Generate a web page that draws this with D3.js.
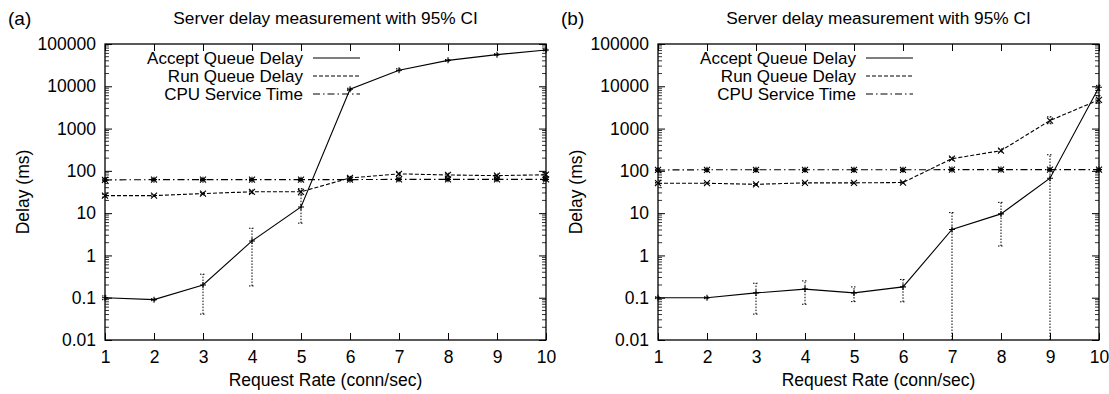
<!DOCTYPE html>
<html>
<head>
<meta charset="utf-8">
<script src="https://cdn.jsdelivr.net/npm/d3@7"></script>
<style>
  body { margin: 0; background: #fff; }
  svg { font-family: "Liberation Sans", Arial, Helvetica, sans-serif; }
</style>
</head>
<body>
<svg></svg>
<script>
// request rates (x axis)
const rates = [1, 2, 3, 4, 5, 6, 7, 8, 9, 10];
const xTickLabels = ["1", "2", "3", "4", "5", "6", "7", "8", "9", "10"];
const yTickValues = [0.01, 0.1, 1, 10, 100, 1000, 10000, 100000];
const yTickLabels = ["0.01", "0.1", "1", "10", "100", "1000", "10000", "100000"];
const seriesNames = ["Accept Queue Delay", "Run Queue Delay", "CPU Service Time"];

// panel (a)
const aAccept   = [0.1, 0.09, 0.2, 2.2, 14, 8500, 24000, 41000, 56000, 72000];
const aAcceptLo = [0.09, 0.085, 0.041, 0.19, 5.8, 8000, 23000, 39000, 54000, 69000];
const aAcceptHi = [0.11, 0.095, 0.36, 4.4, 35, 9000, 26000, 43000, 59000, 76000];
const aRun      = [26, 26, 29, 32, 32, 68, 85, 80, 77, 81];
const aRunLo    = [24, 25, 27, 29, 27, 62, 78, 72, 70, 74];
const aRunHi    = [28, 27, 31, 35, 38, 74, 92, 88, 84, 90];
const aCpu      = [61, 62, 62, 62, 62, 62, 63, 63, 63, 63];
const aCpuLo    = [58, 59, 59, 59, 59, 59, 60, 60, 60, 60];
const aCpuHi    = [64, 65, 65, 65, 65, 65, 66, 66, 66, 66];

// panel (b)
const bAccept   = [0.1, 0.1, 0.13, 0.16, 0.13, 0.18, 4.1, 9.6, 67, 9500];
const bAcceptLo = [0.095, 0.095, 0.041, 0.07, 0.081, 0.08, 0.001, 1.67, 0.001, 8000];
const bAcceptHi = [0.105, 0.105, 0.22, 0.25, 0.18, 0.27, 10.3, 18, 240, 10500];
const bRun      = [51, 51, 48, 52, 52, 53, 194, 300, 1550, 4800];
const bRunLo    = [49, 49, 45, 50, 50, 51, 180, 280, 1300, 4000];
const bRunHi    = [53, 53, 50, 54, 54, 55, 210, 330, 1900, 6000];
const bCpu      = [105, 106, 106, 106, 106, 106, 107, 107, 107, 107];
const bCpuLo    = [101, 102, 102, 102, 102, 102, 103, 103, 103, 103];
const bCpuHi    = [109, 110, 110, 110, 110, 110, 111, 111, 111, 111];

const W = 1109, H = 394;
const FS = 17.5;
const svg = d3.select("svg").attr("width", W).attr("height", H);

const styles = [
  { dash: null, marker: "plus" },
  { dash: "4,2", marker: "cross" },
  { dash: "7,3,1.5,3", marker: "star" }
];

const panels = [
  {
    label: "(a)", left: 105,
    series: [
      [aAccept, aAcceptLo, aAcceptHi],
      [aRun, aRunLo, aRunHi],
      [aCpu, aCpuLo, aCpuHi]
    ]
  },
  {
    label: "(b)", left: 658,
    series: [
      [bAccept, bAcceptLo, bAcceptHi],
      [bRun, bRunLo, bRunHi],
      [bCpu, bCpuLo, bCpuHi]
    ]
  }
];

function markerPath(type, cx, cy) {
  const s = 3;
  const p = d3.path();
  if (type === "plus" || type === "star") {
    p.moveTo(cx - s, cy); p.lineTo(cx + s, cy);
    p.moveTo(cx, cy - s); p.lineTo(cx, cy + s);
  }
  if (type === "cross" || type === "star") {
    p.moveTo(cx - s, cy - s); p.lineTo(cx + s, cy + s);
    p.moveTo(cx - s, cy + s); p.lineTo(cx + s, cy - s);
  }
  return p.toString();
}

panels.forEach(function (panel) {
  const x0 = panel.left, x1 = panel.left + 441;
  const top = 44, bottom = 340;

  const x = d3.scaleLinear().domain([1, 10]).range([x0, x1]);
  const y = d3.scaleLog().domain([0.01, 100000]).range([bottom, top]).clamp(true);

  const g = svg.append("g");

  // minor log ticks
  const minor = [];
  for (let e = -2; e < 5; e++) {
    for (let m = 2; m <= 9; m++) minor.push(m * Math.pow(10, e));
  }
  g.selectAll(".minor")
    .data(minor)
    .enter()
    .append("path")
    .attr("d", d => `M${x0},${y(d)}h4M${x1},${y(d)}h-4`)
    .attr("stroke", "#000")
    .attr("stroke-width", 0.8);

  // y axis (left labels, inward ticks)
  const yAxis = d3.axisLeft(y)
    .tickValues(yTickValues)
    .tickFormat((d, i) => yTickLabels[i])
    .tickSizeInner(-7)
    .tickSizeOuter(0)
    .tickPadding(9);
  g.append("g").attr("transform", `translate(${x0},0)`).call(yAxis)
    .call(s => s.select(".domain").remove())
    .call(s => s.selectAll("text").attr("font-size", FS).attr("font-family", null).attr("fill", "#000"));

  // right side y ticks
  g.append("g").attr("transform", `translate(${x1},0)`)
    .call(d3.axisRight(y).tickValues(yTickValues).tickFormat("").tickSizeInner(-7).tickSizeOuter(0))
    .call(s => s.select(".domain").remove());

  // x axis
  const xAxis = d3.axisBottom(x)
    .tickValues(rates)
    .tickFormat((d, i) => xTickLabels[i])
    .tickSizeInner(-7)
    .tickSizeOuter(0)
    .tickPadding(11);
  g.append("g").attr("transform", `translate(0,${bottom})`).call(xAxis)
    .call(s => s.select(".domain").remove())
    .call(s => s.selectAll("text").attr("font-size", FS).attr("font-family", null).attr("fill", "#000"));

  g.append("g").attr("transform", `translate(0,${top})`)
    .call(d3.axisTop(x).tickValues(rates).tickFormat("").tickSizeInner(-7).tickSizeOuter(0))
    .call(s => s.select(".domain").remove());

  // frame
  g.append("rect")
    .attr("x", x0).attr("y", top)
    .attr("width", x1 - x0).attr("height", bottom - top)
    .attr("fill", "none").attr("stroke", "#000").attr("stroke-width", 1.3);

  // labels
  g.append("text").attr("x", x0 - 97).attr("y", 25)
    .attr("font-size", 19).text(panel.label);
  g.append("text").attr("x", (x0 + x1) / 2).attr("y", 24)
    .attr("text-anchor", "middle").attr("font-size", 17.3)
    .text("Server delay measurement with 95% CI");
  g.append("text")
    .attr("transform", `translate(${x0 - 76},${(top + bottom) / 2}) rotate(-90)`)
    .attr("text-anchor", "middle").attr("font-size", FS)
    .text("Delay (ms)");
  g.append("text").attr("x", (x0 + x1) / 2).attr("y", 386)
    .attr("text-anchor", "middle").attr("font-size", FS)
    .text("Request Rate (conn/sec)");

  const line = d3.line()
    .x((d, i) => x(rates[i]))
    .y(d => y(d));

  panel.series.forEach(function (ser, k) {
    const vals = ser[0], lo = ser[1], hi = ser[2];
    const st = styles[k];

    // error bars
    const eb = g.append("g")
      .attr("stroke", "#000")
      .attr("stroke-width", 1)
      .attr("stroke-dasharray", "1.5,1.5")
      .attr("fill", "none");
    vals.forEach(function (v, i) {
      const xi = x(rates[i]);
      eb.append("path").attr("d", `M${xi},${y(lo[i])}V${y(hi[i])}`);
      [lo[i], hi[i]].forEach(function (e) {
        if (e > 0.01 && e < 100000) {
          eb.append("path").attr("d", `M${xi - 3},${y(e)}h6`);
        }
      });
    });

    g.append("path")
      .datum(vals)
      .attr("d", line)
      .attr("fill", "none")
      .attr("stroke", "#000")
      .attr("stroke-width", 1.1)
      .attr("stroke-dasharray", st.dash);

    g.append("g")
      .selectAll("path")
      .data(vals)
      .enter()
      .append("path")
      .attr("d", (d, i) => markerPath(st.marker, x(rates[i]), y(d)))
      .attr("stroke", "#000")
      .attr("stroke-width", 1.1)
      .attr("fill", "none");

    // legend
    const ly = 58 + k * 18;
    g.append("text")
      .attr("x", x0 + 198).attr("y", ly + 6)
      .attr("text-anchor", "end").attr("font-size", 17)
      .text(seriesNames[k]);
    g.append("path")
      .attr("d", `M${x0 + 208},${ly}H${x0 + 255}`)
      .attr("stroke", "#000")
      .attr("stroke-width", 1.1)
      .attr("stroke-dasharray", st.dash);
  });
});
</script>
</body>
</html>
